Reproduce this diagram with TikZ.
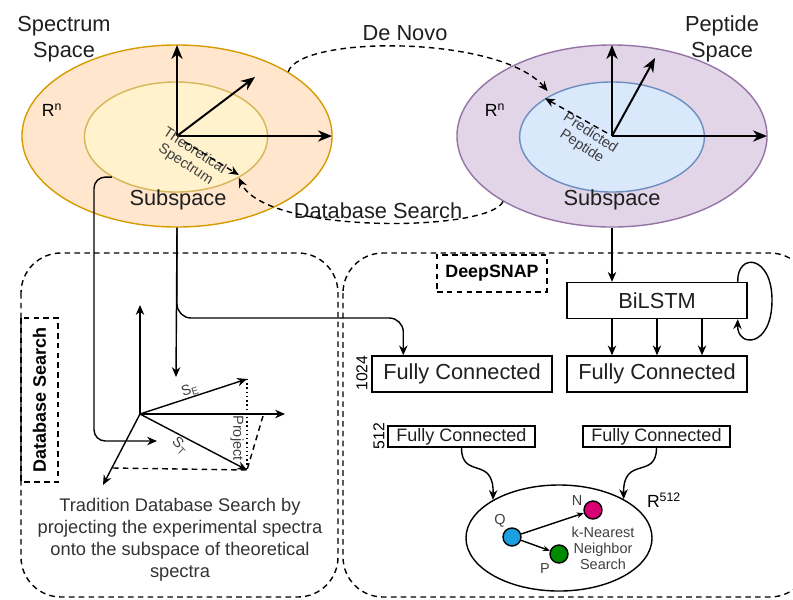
\documentclass[tikz,border=0pt]{standalone}
\usepackage{fontspec}
\setmainfont{Liberation Sans}
\usetikzlibrary{shapes.geometric,arrows.meta}
\definecolor{specfill}{HTML}{FFE6CC}
\definecolor{specline}{HTML}{D79B00}
\definecolor{subfill}{HTML}{FFF2CC}
\definecolor{subline}{HTML}{D6B656}
\definecolor{pepfill}{HTML}{E1D5E7}
\definecolor{pepline}{HTML}{9673A6}
\definecolor{pepsubfill}{HTML}{DAE8FC}
\definecolor{pepsubline}{HTML}{6C8EBF}
\definecolor{qblue}{HTML}{1BA1E2}
\definecolor{nmag}{HTML}{D80073}
\definecolor{pgreen}{HTML}{008A00}

\begin{document}
\begin{tikzpicture}[x=0.025cm,y=-0.025cm,line width=1pt,>={Stealth[length=7pt,width=6pt]},
  big/.style={font=\fontsize{15.5}{18}\selectfont,text=black!88},
  tiny/.style={font=\fontsize{10.3}{11.4}\selectfont,text=black!75},
  axis/.style={line width=1.4pt,-{Stealth[length=10pt,width=8pt]}},
  dashline/.style={dash pattern=on 4pt off 3pt},
  layer/.style={draw,minimum width=4.5cm,minimum height=0.9cm,big},
  fcsmall/.style={draw,minimum width=3.675cm,minimum height=0.525cm,inner sep=0pt,font=\fontsize{12.8}{14}\selectfont,text=black!88},
  pt/.style={shape=circle,draw,minimum size=0.45cm,inner sep=0pt}]
\useasboundingbox (0,0) rectangle (793,599);
\node[shape=ellipse,draw=specline,fill=specfill,minimum width=7.75cm,minimum height=4.55cm] (SS) at (177,136) {};
\node[shape=ellipse,draw=subline,fill=subfill,minimum width=4.58cm,minimum height=2.75cm] (SSub) at (176,137) {};
\node[shape=ellipse,draw=pepline,fill=pepfill,minimum width=7.75cm,minimum height=4.55cm] (PS) at (612,136) {};
\node[shape=ellipse,draw=pepsubline,fill=pepsubfill,minimum width=4.62cm,minimum height=2.75cm] (PSub) at (612,137) {};
\node[big,align=center] (ssname) at (64,39) {Spectrum\\Space};
\node[big,align=center] (psname) at (722,39) {Peptide\\Space};
\node[font=\fontsize{12.5}{14}\selectfont] (rn1) at (52,110) {R\textsuperscript{n}};
\node[font=\fontsize{12.5}{14}\selectfont] (rn2) at (495,110) {R\textsuperscript{n}};
\node[big] (sub1) at (178,200) {Subspace};
\node[big] (sub2) at (612,200) {Subspace};
\node[big] (denovo) at (405,33) {De Novo};
\node[big] (dbs) at (378,211) {Database Search};
\coordinate (o1) at (177,136);
\coordinate (o2) at (612,136);
\draw[axis] (o1) -- (177,45);
\draw[axis] (o1) -- (332,136);
\draw[axis] (o1) -- (255,77);
\draw[axis] (o2) -- (612,45);
\draw[axis] (o2) -- (767,136);
\draw[axis] (o2) -- (655,58);
\node[tiny,align=center,rotate=-33] (theo) at (190,158) {Theoretical\\Spectrum};
\node[tiny,align=center,rotate=-33] (pred) at (586,140) {Predicted\\Peptide};
\draw[dashline,->] (185,142) -- ([yshift=2pt]SSub.327);
\draw[dashline,->] (607,133) -- (PSub.150);
\draw[dashline,->] (SS.30) .. controls (300,35) and (500,35) .. ([yshift=4pt]PSub.148);
\draw[dashline,->] (PS.211) .. controls (490,232) and (265,235) .. (SSub.327);

\draw[dashline,rounded corners=1cm] (21,253) rectangle (338,597);
\draw[dashline,rounded corners=1cm] (343,253) rectangle (810,597);
\node[draw,dashline,rotate=90,minimum width=4.1cm,minimum height=0.925cm,font=\bfseries\fontsize{12.8}{14}\selectfont] (dbsbox) at (39.5,400) {Database Search};
\node[draw,dashline,minimum width=2.75cm,minimum height=0.925cm,font=\bfseries\fontsize{12.7}{14}\selectfont] (snap) at (492,273.5) {DeepSNAP};

\coordinate (o3) at (140,414);
\coordinate (se) at (247,379);
\coordinate (st) at (247,470);
\draw[->] (o3) -- (140,305);
\draw[->] (o3) -- (285,414);
\draw[->] (o3) -- (103,485);
\draw[->] (o3) -- (se);
\draw[->] (o3) -- (st);
\draw[dotted] (se) -- (247,468);
\draw[dashline] (263,416) -- (st);
\draw[dashline] (113,468) -- (st);
\node[tiny,rotate=18] (selbl) at (190,390) {S\textsubscript{E}};
\node[tiny,rotate=-45] (stlbl) at (180,446) {S\textsubscript{T}};
\node[tiny,rotate=-90] (projlbl) at (237,438) {Project};
\node[font=\fontsize{13}{15.6}\selectfont,align=center,text=black!80] (cap) at (180,540) {Tradition Database Search by\\projecting the experimental spectra\\onto the subspace of theoretical\\spectra};

\node[layer] (fc1) at (462,374) {Fully Connected};
\node[layer] (fc2) at (657,374) {Fully Connected};
\node[layer] (bilstm) at (657,300.5) {BiLSTM};
\node[fcsmall] (fc3) at (461.5,436.5) {Fully Connected};
\node[fcsmall] (fc4) at (656.5,436.5) {Fully Connected};
\node[font=\fontsize{11.2}{12}\selectfont,rotate=90] (n1024) at (362,373) {1024};
\node[font=\fontsize{11.2}{12}\selectfont,rotate=90] (n512) at (379,436) {512};

\draw[->,rounded corners=8pt] (SSub.212) -| (94,441) -- (157,441);
\draw[->] (SS.south) -- (176,377);
\draw[->,rounded corners=10pt] (SS.south) -- (177,318) -| ([xshift=0.8cm]fc1.north west);
\draw[->] (PS.south) -- (bilstm.north -| PS.south);
\foreach \s in {-1.125,0,1.125}
  \draw[->] ([xshift=\s cm]bilstm.south) -- ([xshift=\s cm]fc2.north);
\draw[->] ([xshift=-0.25cm]bilstm.north east) .. controls (737,252) and (772,255) .. (772,300) .. controls (772,348) and (737,348) .. ([xshift=-0.25cm]bilstm.south east);

\node[shape=ellipse,draw,minimum width=4.65cm,minimum height=2.65cm] (knn) at (559,538) {};
\draw[->] (fc3.south) .. controls (461.5,480) and (494,455) .. (knn.150);
\draw[->] (fc4.south) .. controls (656.5,480) and (623,455) .. (knn.31);
\node[pt,fill=qblue] (Q) at (512,537) {};
\node[pt,fill=nmag] (N) at (593,510) {};
\node[pt,fill=pgreen] (P) at (559,554) {};
\draw[->,>={Stealth[length=5pt,width=4pt]}] (Q) -- (N);
\draw[->,>={Stealth[length=5pt,width=4pt]}] (Q) -- (P);
\node[tiny] (qlbl) at (500,521) {Q};
\node[tiny] (nlbl) at (577,501) {N};
\node[tiny] (plbl) at (545,569) {P};
\node[font=\fontsize{12.5}{14}\selectfont] (r512) at (664,500) {R\textsuperscript{512}};
\node[tiny,align=center] (knntext) at (603,548) {k-Nearest\\Neighbor\\Search};
\end{tikzpicture}
\end{document}
